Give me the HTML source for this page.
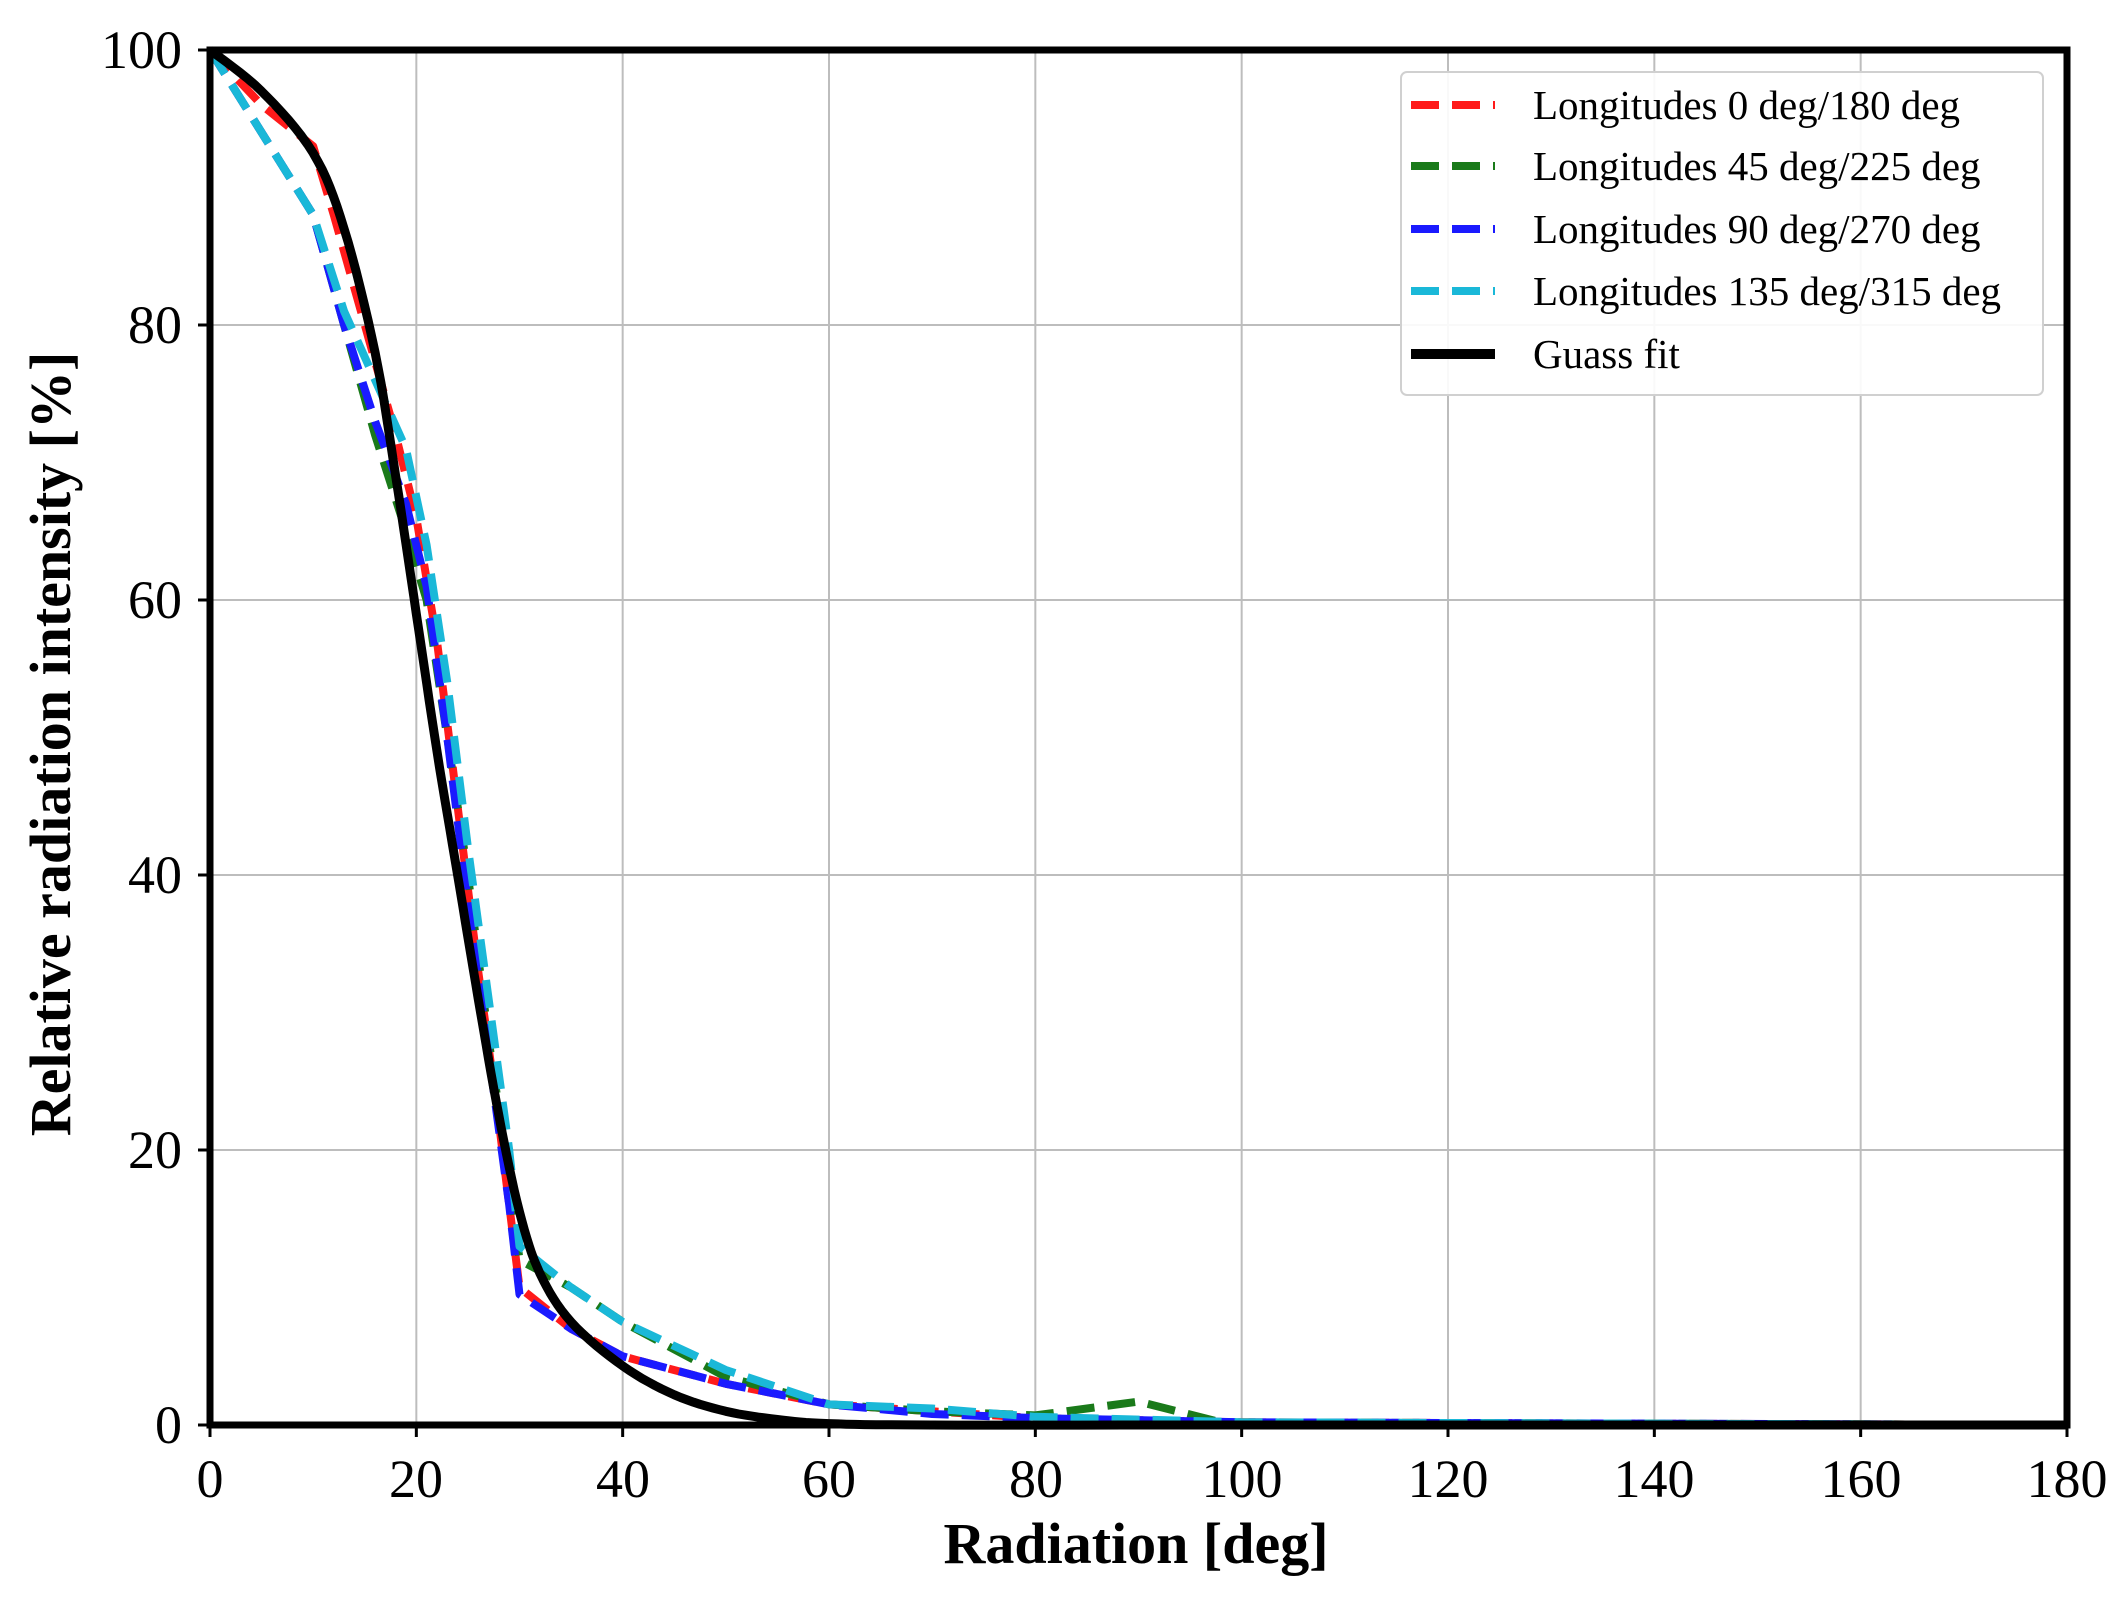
<!DOCTYPE html>
<html><head><meta charset="utf-8"><style>
html,body{margin:0;padding:0;background:#fff}
svg{display:block}
text{font-family:"Liberation Serif",serif;fill:#000}
</style></head><body>
<svg id="s" width="2121" height="1598" viewBox="0 0 2121 1598" xmlns="http://www.w3.org/2000/svg">
<g id="grid" stroke="#bdbdbd" stroke-width="2"></g>
<g id="series"></g>
<rect x="210" y="50" width="1857" height="1375" fill="none" stroke="#000" stroke-width="7"/>
<g id="ticks" stroke="#000" stroke-width="3"></g>
<g font-size="54" text-anchor="end">
<text x="182" y="1443">0</text><text x="182" y="1168">20</text><text x="182" y="893">40</text>
<text x="182" y="618">60</text><text x="182" y="343">80</text><text x="182" y="68">100</text>
</g>
<g font-size="54" text-anchor="middle">
<text x="210" y="1497">0</text><text x="416" y="1497">20</text><text x="623" y="1497">40</text>
<text x="829" y="1497">60</text><text x="1036" y="1497">80</text><text x="1242" y="1497">100</text>
<text x="1448" y="1497">120</text><text x="1654" y="1497">140</text><text x="1861" y="1497">160</text>
<text x="2067" y="1497">180</text>
</g>
<text x="1136" y="1563" font-size="58" font-weight="bold" text-anchor="middle">Radiation [deg]</text>
<text transform="translate(70,744) rotate(-90)" font-size="58" font-weight="bold" text-anchor="middle">Relative radiation intensity [%]</text>
<rect x="1401" y="72" width="642" height="323" rx="6" fill="#fff" fill-opacity="0.9" stroke="#d0d0d0" stroke-width="2"/>
<g stroke-width="8" stroke-dasharray="28,13">
<line x1="1411" y1="105" x2="1495" y2="105" stroke="#ff1a1a"/>
<line x1="1411" y1="166" x2="1495" y2="166" stroke="#1a7a1a"/>
<line x1="1411" y1="229" x2="1495" y2="229" stroke="#1a1aff"/>
<line x1="1411" y1="291" x2="1495" y2="291" stroke="#1ab8d8"/>
</g>
<line x1="1411" y1="354" x2="1495" y2="354" stroke="#000" stroke-width="10"/>
<g font-size="41">
<text x="1533" y="119">Longitudes 0 deg/180 deg</text>
<text x="1533" y="180">Longitudes 45 deg/225 deg</text>
<text x="1533" y="243">Longitudes 90 deg/270 deg</text>
<text x="1533" y="305">Longitudes 135 deg/315 deg</text>
<text x="1533" y="368">Guass fit</text>
</g>
</svg>
<script>
var X=function(d){return 210+d*1857/180},Y=function(v){return 1425-v*13.75};
var ns="http://www.w3.org/2000/svg";
var g=document.getElementById('grid'),t=document.getElementById('ticks'),s=document.getElementById('series');
function ln(p,a,b,c,d){var l=document.createElementNS(ns,'line');l.setAttribute('x1',a);l.setAttribute('y1',b);l.setAttribute('x2',c);l.setAttribute('y2',d);p.appendChild(l);}
for(var i=1;i<9;i++)ln(g,X(i*20),50,X(i*20),1425);
for(var i=1;i<5;i++)ln(g,210,Y(i*20),2067,Y(i*20));
for(var i=0;i<=9;i++)ln(t,X(i*20),1425,X(i*20),1437);
for(var i=0;i<=5;i++)ln(t,198,Y(i*20),210,Y(i*20));
function smooth(P){var q=[];for(var i=0;i<P.length-1;i++){var p0=P[Math.max(0,i-1)],p1=P[i],p2=P[i+1],p3=P[Math.min(P.length-1,i+2)];
for(var k=0;k<8;k++){var u=k/8,u2=u*u,u3=u2*u;q.push([0,1].map(function(j){return 0.5*((2*p1[j])+(-p0[j]+p2[j])*u+(2*p0[j]-5*p1[j]+4*p2[j]-p3[j])*u2+(-p0[j]+3*p1[j]-3*p2[j]+p3[j])*u3);}));}}
q.push(P[P.length-1]);return q;}
function pl(pts,col,w,dash,sm){var P=[];for(var i=0;i<pts.length;i+=2)P.push([X(pts[i]),Y(pts[i+1])]);if(sm)P=smooth(P);
var p=document.createElementNS(ns,'polyline');p.setAttribute('points',P.map(function(a){return a[0].toFixed(1)+','+a[1].toFixed(1)}).join(' '));
p.setAttribute('fill','none');p.setAttribute('stroke',col);p.setAttribute('stroke-width',w);p.setAttribute('stroke-linejoin','round');if(dash)p.setAttribute('stroke-dasharray',dash);s.appendChild(p);}
pl([0,100,5,96,10,93,12,88,15,80,18,72,20,66,22,57,24,45,26,33,28,22,30,10,35,7,40,5,50,3,60,1.5,70,1,80,0.5,100,0.2,180,0],'#ff1a1a',8,'28,13');
pl([0,100,5,94,10,88,13,80,16,72,19,65,21,60,23,50,25,40,27,28,29,18,30,12,35,10,40,7.5,50,3.5,60,1.5,70,1,80,0.7,90,1.7,98,0.2,180,0],'#1a7a1a',8,'28,13');
pl([0,100,5,94,10,88,13,80,16,73,19,67,21,61,23,50,25,38,27,27,29,16,30,9.5,35,7,40,5,50,3,60,1.5,70,0.8,80,0.5,100,0.2,180,0],'#1a1aff',8,'28,13');
pl([0,100,5,94,10,88,13,81,16,76,19,71,21,64,23,54,25,42,27,31,29,20,30,13,35,10,40,7.5,50,4,60,1.5,70,1.2,80,0.6,100,0.2,180,0],'#1ab8d8',8,'28,13');
pl([0,100,5,97,10,92.5,13,87,16,78,18,69,20,59,22,49,24,40,26,31,28,22.5,30,15.5,32,11,35,7.5,40,4.3,45,2.2,50,1,55,0.4,60,0.1,70,0,100,0,180,0],'#000',9,null,true);
ln(s,X(9),Y(0),2067,Y(0));s.lastChild.setAttribute('stroke','#000');s.lastChild.setAttribute('stroke-width',6);
</script>
</body></html>
